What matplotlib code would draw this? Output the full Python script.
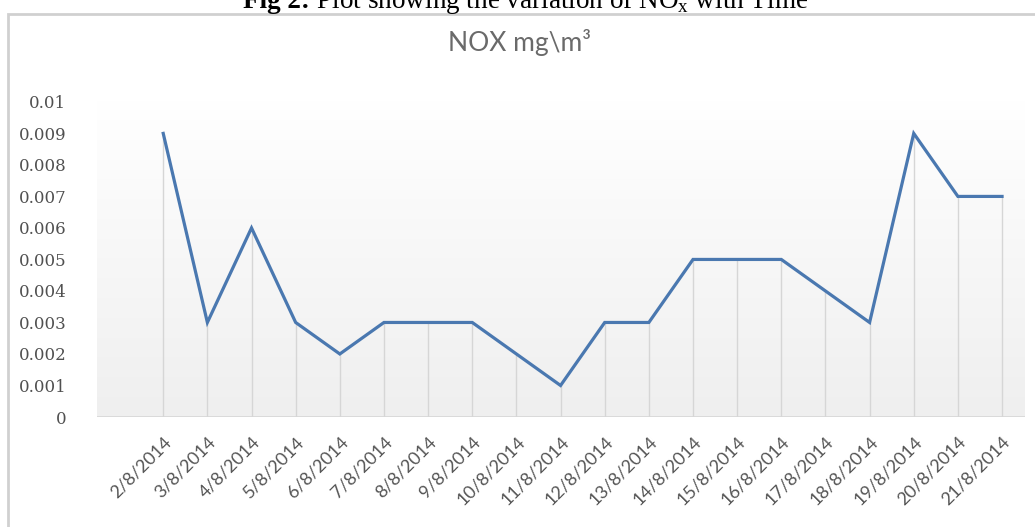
import numpy as np
import matplotlib.pyplot as plt
from matplotlib.patches import Rectangle
from matplotlib.colors import LinearSegmentedColormap

# du lieu doc tu hinh
ngay = ['2/8/2014', '3/8/2014', '4/8/2014', '5/8/2014', '6/8/2014', '7/8/2014',
        '8/8/2014', '9/8/2014', '10/8/2014', '11/8/2014', '12/8/2014', '13/8/2014',
        '14/8/2014', '15/8/2014', '16/8/2014', '17/8/2014', '18/8/2014',
        '19/8/2014', '20/8/2014', '21/8/2014']
nox = [0.009, 0.003, 0.006, 0.003, 0.002, 0.003, 0.003, 0.003, 0.002, 0.001,
       0.003, 0.003, 0.005, 0.005, 0.005, 0.004, 0.003, 0.009, 0.007, 0.007]
yticks = [0, 0.001, 0.002, 0.003, 0.004, 0.005, 0.006, 0.007, 0.008, 0.009, 0.01]
ylabels = ['0', '0.001', '0.002', '0.003', '0.004', '0.005', '0.006', '0.007',
           '0.008', '0.009', '0.01']

plt.rcParams['mathtext.fontset'] = 'custom'
plt.rcParams['mathtext.rm'] = 'Liberation Serif'

W, H = 1035, 527
fig = plt.figure(figsize=(W / 100, H / 100), dpi=100)

# khung vien xung quanh bieu do
fig.patches.append(Rectangle((8 / W, -0.02), 1.1, 1 - 14 / H + 0.02,
                             transform=fig.transFigure, fill=False,
                             edgecolor='#d0d0d0', lw=2))

# tieu de bi cat o phia tren: phan dam + phan thuong, can giua quanh x=526
yt = 1 - 8 / H
t1 = fig.text(0, yt, 'Fig 2:', ha='left', va='baseline', fontsize=19.5,
              family='Liberation Serif', weight='bold')
t2 = fig.text(0, yt, ' Plot showing the variation of NO$_{\\mathrm{x}}$ with Time',
              ha='left', va='baseline', fontsize=19.5, family='Liberation Serif')
r = fig.canvas.get_renderer()
w1 = t1.get_window_extent(r).width
w2 = t2.get_window_extent(r).width
x0 = 526 - (w1 + w2) / 2
t1.set_x(x0 / W)
t2.set_x((x0 + w1) / W)

left, right, top, bottom = 97, 1025, 100, 417
ax = fig.add_axes([left / W, (H - bottom) / H, (right - left) / W, (bottom - top) / H])

x = np.arange(len(nox))
ymax = 0.01006

# nen gradient: tren trang, duoi xam nhat
cmap = LinearSegmentedColormap.from_list('nen', ['#ffffff', '#efefef'])
grad = np.linspace(0, 1, 256).reshape(-1, 1)
ax.imshow(grad, cmap=cmap, aspect='auto', origin='upper',
          extent=(-1.5, 19.52, 0, ymax), zorder=0)
ax.set_xlim(-1.5, 19.52)
ax.set_ylim(0, ymax)

ax.vlines(x, 0, nox, color='#d6d6d6', lw=1, zorder=1)
ax.axhline(0, color='#d6d6d6', lw=1.2, zorder=1)
ax.plot(x, nox, color='#4a78b0', lw=2.3, zorder=3, solid_joinstyle='miter')

ax.set_yticks(yticks)
ax.set_yticklabels(ylabels, family='DejaVu Serif', fontsize=12, color='#505050')
ax.set_xticks(x)
ax.set_xticklabels(ngay, rotation=45, ha='right', rotation_mode='anchor',
                   family='Lato', fontsize=13, color='#555555')
ax.tick_params(length=0)
ax.tick_params(axis='y', pad=22)
ax.tick_params(axis='x', pad=12)
for s in ax.spines.values():
    s.set_visible(False)

fig.text(519 / W, 1 - 51 / H, 'NOX mg\\m³', ha='center', va='baseline',
         family='Lato', fontsize=19, color='#6a6a6a')

fig.savefig('out.png', dpi=100)
